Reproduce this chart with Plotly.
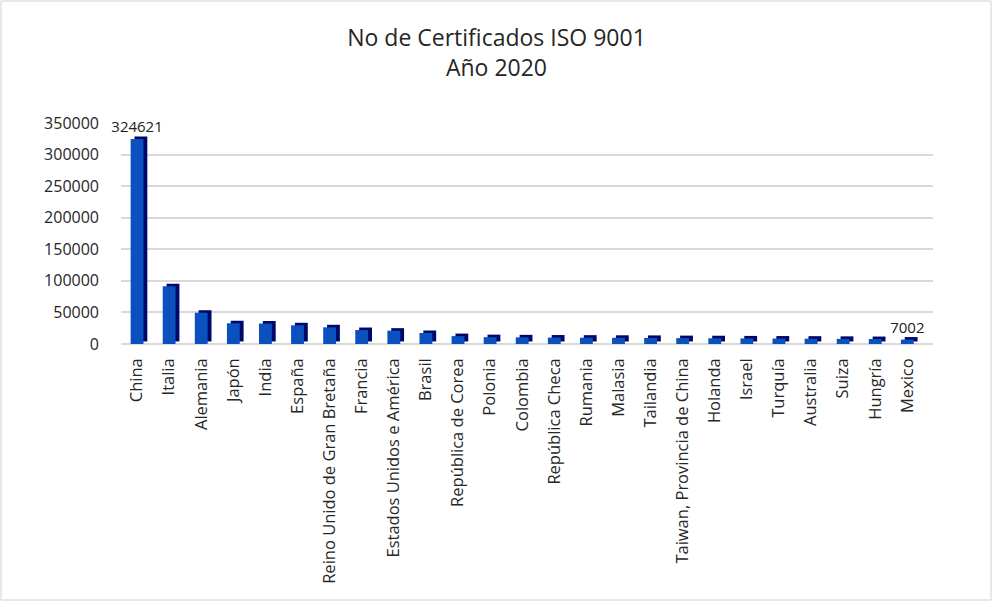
import plotly.graph_objects as go

# countries and ISO 9001 certificates, year 2020
paises = ["China", "Italia", "Alemania", "Japón", "India", "España",
          "Reino Unido de Gran Bretaña", "Francia", "Estados Unidos e América",
          "Brasil", "República de Corea", "Polonia", "Colombia", "República Checa",
          "Rumania", "Malasia", "Tailandia", "Taiwan, Provincia de China",
          "Holanda", "Israel", "Turquía", "Australia", "Suiza", "Hungría", "Mexico"]
certificados = [324621, 91400, 49500, 32800, 32400, 29600,
                26400, 22100, 21100, 17400, 12500, 10800, 10500, 10200,
                10000, 9800, 9600, 9300, 9100, 8800, 8600, 8400, 8100, 7800, 7002]
ticks_y = [0, 50000, 100000, 150000, 200000, 250000, 300000, 350000]

# only first and last bar carry a data label
etiquetas = [str(v) if i in (0, len(certificados) - 1) else "" for i, v in enumerate(certificados)]

W, H = 993, 602
L, R, T, B = 121, 60, 123, 258

fig = go.Figure()

# dark "side" of the 3D column, shifted up-right
fig.add_trace(go.Bar(x=paises, y=certificados, base=4000, width=0.4, offset=-0.08,
                     marker=dict(color="#00096a", line=dict(width=0)),
                     hoverinfo="skip", showlegend=False))
# front face
fig.add_trace(go.Bar(x=paises, y=certificados, width=0.4, offset=-0.2,
                     marker=dict(color="#0a50be", line=dict(width=0)),
                     text=etiquetas, textposition="outside", cliponaxis=False,
                     constraintext="none",
                     textfont=dict(size=15, color="#222222"),
                     showlegend=False))

# thin grey frame around the whole chart
pw, ph = W - L - R, H - T - B
fig.add_shape(type="rect", xref="paper", yref="paper",
              x0=(1 - L) / pw, x1=(W - 2 - L) / pw,
              y0=-(B - 2) / ph, y1=1 + (T - 1) / ph,
              line=dict(color="#d0d0d0", width=1), layer="below")

fig.update_layout(
    width=W, height=H,
    margin=dict(l=L, r=R, t=T, b=B, autoexpand=False),
    paper_bgcolor="white", plot_bgcolor="white",
    font=dict(family="Open Sans", color="#262626"),
    barmode="overlay",
    title=dict(text="No de Certificados ISO 9001<br>Año 2020", x=0.5, xanchor="center",
               y=0.924, yanchor="middle", font=dict(size=23, color="#262626")),
)
fig.update_xaxes(tickangle=-90, tickfont=dict(size=16.5), showgrid=False, automargin=False,
                 showline=False, ticks="", ticklen=0, ticklabelstandoff=10,
                 range=[-0.5, len(paises) - 0.2])
fig.update_yaxes(range=[0, 350000], tickvals=ticks_y, ticktext=[str(t) for t in ticks_y],
                 tickfont=dict(size=16), gridcolor="#d9d9d9", gridwidth=1.5, automargin=False,
                 zeroline=True, zerolinecolor="#d9d9d9", zerolinewidth=1.5,
                 showline=False, ticks="", ticklabelstandoff=21)

# drop the browser's default page margin so the figure sits at 0,0
fig.write_html("out.html", config={"displayModeBar": False},
               post_script="document.body.style.margin='0';")
